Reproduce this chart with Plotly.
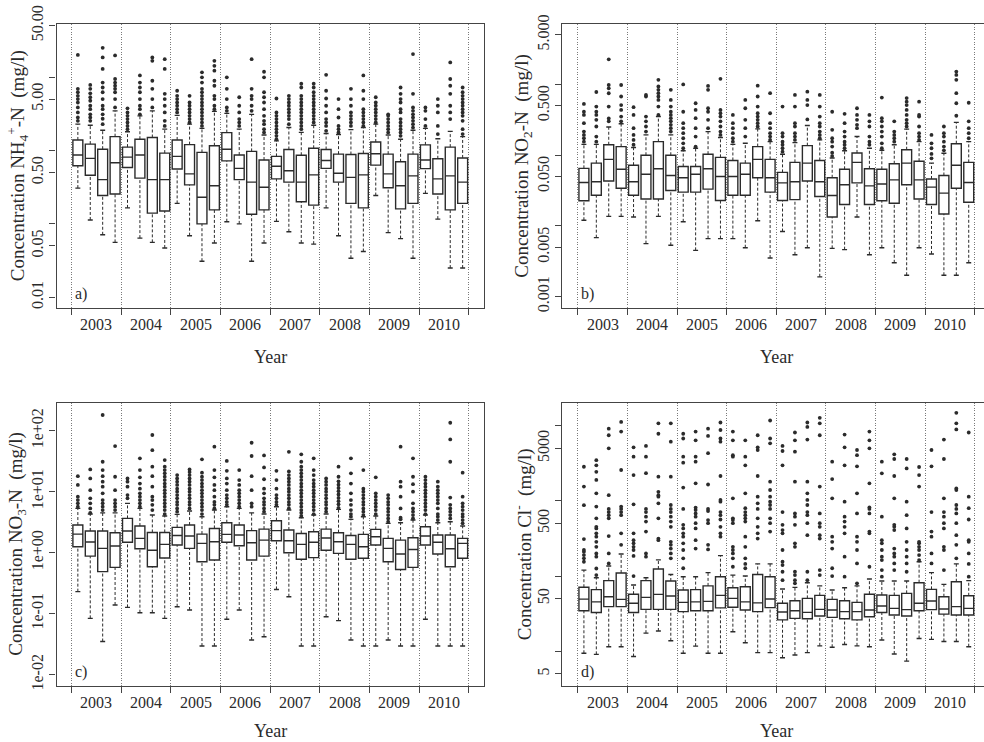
import plotly.graph_objects as go

# ---------------------------------------------------------------------------
# Quarterly box-plot statistics, 2003-2010 (4 quarters per year, 32 boxes)
# ---------------------------------------------------------------------------
years = ["2003", "2004", "2005", "2006", "2007", "2008", "2009", "2010"]
positions = list(range(1, 33))

# a) NH4+-N (mg/l)
nh4_q1 = [0.62, 0.46, 0.243, 0.255, 0.585, 0.42, 0.14, 0.15, 0.56, 0.34, 0.10, 0.155, 0.72, 0.40, 0.135, 0.155,
          0.41, 0.37, 0.20, 0.18, 0.57, 0.37, 0.19, 0.165, 0.63, 0.31, 0.16, 0.19, 0.565, 0.255, 0.155, 0.19]
nh4_med = [0.865, 0.78, 0.40, 0.68, 0.81, 0.865, 0.40, 0.40, 0.83, 0.48, 0.23, 0.33, 1.04, 0.57, 0.37, 0.315,
           0.61, 0.53, 0.37, 0.465, 0.73, 0.49, 0.43, 0.465, 0.90, 0.48, 0.33, 0.45, 0.74, 0.41, 0.45, 0.37]
nh4_q3 = [1.39, 1.22, 1.04, 1.54, 1.11, 1.42, 1.5, 0.92, 1.39, 1.2, 0.94, 1.16, 1.75, 0.865, 0.97, 0.74,
          0.83, 1.03, 0.86, 1.07, 1.03, 0.89, 0.88, 0.91, 1.3, 0.89, 0.70, 0.89, 1.19, 0.77, 1.11, 0.79]
nh4_lo = [0.307, 0.113, 0.071, 0.056, 0.165, 0.064, 0.056, 0.047, 0.19, 0.069, 0.031, 0.055, 0.107, 0.10, 0.031, 0.055,
          0.108, 0.078, 0.055, 0.053, 0.165, 0.069, 0.034, 0.042, 0.243, 0.076, 0.063, 0.034, 0.26, 0.116, 0.025, 0.025]
nh4_hi = [2.28, 2.2, 1.88, 3.46, 1.8, 2.96, 3.46, 1.95, 3.0, 2.28, 2.0, 3.4, 3.2, 1.95, 3.1, 1.62,
          1.35, 2.05, 1.76, 2.2, 1.7, 1.65, 1.92, 2.05, 2.28, 1.62, 1.42, 1.88, 2.0, 1.44, 1.82, 1.54]
nh4_out = [
    [2.53, 2.81, 3.29, 3.85, 4.5, 5.0, 5.55, 6.2, 6.9, 20],
    [2.53, 2.81, 3.1, 3.65, 4.06, 4.75, 5.3, 6.0, 6.9, 7.8],
    [2.28, 2.7, 3.1, 3.65, 4.06, 5.0, 6.2, 7.2, 8.4, 12.9, 18.5, 25],
    [3.85, 5.0, 6.2, 6.9, 7.6, 8.4, 9.4, 19.7],
    [1.95, 2.16, 2.4, 2.67, 2.96, 3.29, 3.75],
    [3.1, 3.65, 4.06, 5.0, 6.2, 7.2, 8.4, 10.5],
    [3.85, 5.0, 6.9, 8.9, 16.6, 18.5],
    [2.16, 2.53, 3.29, 4.06, 5.0, 5.9, 12.9, 17.5],
    [3.29, 3.65, 4.06, 4.5, 5.0, 5.55, 6.5],
    [2.4, 2.67, 2.96, 3.29, 3.65, 4.06, 4.5, 5.55],
    [2.16, 2.4, 2.67, 2.96, 3.29, 3.65, 4.06, 4.5, 5.0, 5.55, 6.2, 6.9, 8.4, 9.9, 11.6],
    [3.65, 4.06, 5.0, 5.55, 7.6, 8.9, 12.2, 14.2, 16.6],
    [3.46, 3.85, 5.0, 6.9, 9.9],
    [2.16, 2.4, 2.67, 3.29, 4.06, 5.3],
    [3.46, 4.06, 5.0, 5.55, 6.9, 17.5],
    [1.76, 1.95, 2.28, 2.53, 2.96, 3.65, 4.5, 5.3, 6.2, 9.9, 11.8],
    [1.42, 1.58, 1.76, 1.95, 2.16, 2.4, 2.67, 2.96, 3.29, 5.1],
    [2.28, 2.67, 2.96, 3.29, 3.65, 4.06, 4.5, 5.0, 5.55],
    [1.95, 2.16, 2.4, 2.67, 2.96, 3.29, 3.65, 4.06, 4.5, 5.0, 5.55, 7.2, 8.1],
    [2.4, 2.67, 2.96, 3.29, 3.65, 4.06, 4.5, 5.0, 5.55, 6.2, 7.2, 8.1],
    [1.85, 2.16, 2.4, 2.67, 3.29, 4.06, 5.1, 6.5, 10.7],
    [1.76, 1.95, 2.16, 2.81, 3.65, 5.0],
    [2.16, 2.4, 2.67, 2.96, 3.29, 4.06, 5.0, 6.9],
    [2.16, 2.4, 2.67, 2.96, 3.29, 3.65, 5.0, 6.5, 10.5],
    [2.4, 2.67, 2.96, 3.29, 3.65, 4.06, 4.5, 5.3],
    [1.76, 1.95, 2.16, 2.4, 2.67, 2.96, 3.1],
    [1.58, 1.76, 1.95, 2.16, 2.4, 2.67, 3.29, 3.65, 4.5, 5.0, 5.9, 7.2],
    [2.05, 2.28, 2.53, 2.81, 3.1, 3.46, 3.85, 5.9, 20.5],
    [2.16, 2.67, 3.46, 3.85],
    [1.67, 2.16, 3.29, 4.06, 5.0],
    [2.67, 3.29, 4.06, 5.9, 7.6, 9.4, 15.8],
    [1.67, 1.95, 2.53, 2.96, 3.29, 3.65, 4.06, 4.5, 5.0, 5.55, 6.2, 7.2],
]

# b) NO2-N (mg/l)
no2_q1 = [0.0226, 0.027, 0.043, 0.034, 0.027, 0.024, 0.024, 0.0316, 0.030, 0.030, 0.033, 0.0228, 0.027, 0.027, 0.0478, 0.030,
          0.0228, 0.0235, 0.043, 0.026, 0.0133, 0.020, 0.0405, 0.020, 0.0226, 0.0209, 0.038, 0.024, 0.020, 0.0147, 0.034, 0.0215]
no2_med = [0.041, 0.042, 0.087, 0.063, 0.042, 0.0537, 0.064, 0.0515, 0.0478, 0.0537, 0.064, 0.0498, 0.0498, 0.0537, 0.087, 0.0478,
           0.0405, 0.042, 0.0769, 0.042, 0.0268, 0.038, 0.079, 0.0367, 0.039, 0.0447, 0.0769, 0.0447, 0.0353, 0.029, 0.072, 0.041]
no2_q3 = [0.065, 0.077, 0.14, 0.132, 0.072, 0.0995, 0.155, 0.0995, 0.069, 0.069, 0.103, 0.093, 0.084, 0.077, 0.132, 0.087,
          0.057, 0.079, 0.136, 0.084, 0.0478, 0.063, 0.107, 0.064, 0.063, 0.0754, 0.119, 0.082, 0.046, 0.0515, 0.145, 0.079]
no2_lo = [0.012, 0.0068, 0.0136, 0.0136, 0.0133, 0.0056, 0.0136, 0.0053, 0.0114, 0.0045, 0.0066, 0.0066, 0.0066, 0.0049, 0.0118, 0.0035,
          0.0083, 0.0039, 0.0049, 0.0019, 0.0048, 0.0046, 0.0133, 0.0039, 0.0049, 0.0030, 0.0020, 0.0049, 0.0040, 0.0020, 0.0020, 0.0030]
no2_hi = [0.142, 0.142, 0.25, 0.277, 0.128, 0.193, 0.351, 0.193, 0.115, 0.125, 0.215, 0.177, 0.142, 0.147, 0.235, 0.155,
          0.103, 0.15, 0.262, 0.164, 0.091, 0.115, 0.183, 0.125, 0.117, 0.14, 0.233, 0.155, 0.077, 0.106, 0.29, 0.155]
no2_out = [
    [0.155, 0.173, 0.193, 0.215, 0.283, 0.37, 0.41, 0.53],
    [0.155, 0.183, 0.254, 0.315, 0.37, 0.41, 0.486, 0.78],
    [0.30, 0.33, 0.486, 0.75, 0.88, 0.98, 2.26],
    [0.30, 0.351, 0.436, 0.51, 0.674, 0.98],
    [0.14, 0.164, 0.193, 0.24, 0.37, 0.476],
    [0.215, 0.254, 0.30, 0.351, 0.674, 0.71],
    [0.37, 0.486, 0.603, 0.674, 0.751, 0.837, 0.933, 1.16],
    [0.215, 0.24, 0.268, 0.30, 0.333, 0.37, 0.41, 0.486, 0.603, 0.837],
    [0.125, 0.147, 0.173, 0.204, 0.24, 0.283, 0.41, 1.0],
    [0.132, 0.183, 0.24, 0.333, 0.436, 0.541],
    [0.24, 0.315, 0.41, 0.46, 0.837, 0.95],
    [0.193, 0.215, 0.254, 0.30, 0.351, 0.391, 0.436, 1.2],
    [0.155, 0.173, 0.204, 0.24, 0.283, 0.37],
    [0.183, 0.24, 0.315, 0.46, 0.603],
    [0.254, 0.283, 0.315, 0.351, 0.391, 0.486, 0.674, 0.96],
    [0.164, 0.183, 0.204, 0.24, 0.283, 0.391, 0.751],
    [0.112, 0.125, 0.14, 0.155, 0.183, 0.204, 0.486],
    [0.164, 0.183, 0.204, 0.254, 0.283, 0.486, 0.71],
    [0.32, 0.51, 0.603, 0.79],
    [0.173, 0.193, 0.215, 0.254, 0.283, 0.351, 0.486, 0.71],
    [0.097, 0.108, 0.132, 0.155, 0.173, 0.228, 0.41],
    [0.125, 0.14, 0.155, 0.183, 0.215, 0.283, 0.383],
    [0.24, 0.268, 0.315, 0.37, 0.46],
    [0.14, 0.155, 0.183, 0.254, 0.30, 0.37],
    [0.125, 0.147, 0.183, 0.215, 0.254, 0.30, 0.333, 0.65],
    [0.155, 0.173, 0.193, 0.215, 0.30],
    [0.254, 0.283, 0.315, 0.37, 0.436, 0.51, 0.57, 0.64],
    [0.164, 0.183, 0.204, 0.254, 0.351, 0.37, 0.57],
    [0.09, 0.104, 0.125, 0.147, 0.193],
    [0.117, 0.132, 0.155, 0.183, 0.204, 0.254],
    [0.36, 0.541, 0.751, 1.16, 1.36, 1.52],
    [0.173, 0.204, 0.24, 0.30, 0.55],
]

# c) NO3-N (mg/l)
no3_q1 = [1.25, 0.88, 0.49, 0.575, 1.48, 1.16, 0.59, 0.82, 1.34, 1.18, 0.71, 0.76, 1.48, 1.3, 0.76, 0.88,
          1.57, 1.0, 0.78, 0.83, 1.1, 0.975, 0.78, 0.81, 1.34, 0.71, 0.53, 0.575, 1.34, 0.95, 0.59, 0.81]
no3_med = [2.02, 1.5, 1.18, 1.29, 2.27, 1.72, 1.1, 1.37, 1.92, 1.88, 1.42, 1.51, 2.0, 1.95, 1.46, 1.61,
           2.3, 1.57, 1.37, 1.48, 1.74, 1.51, 1.37, 1.25, 1.83, 1.18, 0.95, 1.13, 1.88, 1.48, 1.16, 1.42]
no3_q3 = [2.84, 2.27, 2.27, 2.13, 3.65, 2.74, 2.15, 2.15, 2.6, 2.84, 2.02, 2.5, 3.1, 2.84, 2.3, 2.44,
          3.35, 2.35, 2.07, 2.21, 2.44, 2.13, 1.92, 2.0, 2.41, 1.72, 1.61, 1.76, 2.67, 1.95, 1.95, 1.72]
no3_lo = [0.23, 0.084, 0.035, 0.139, 0.127, 0.104, 0.104, 0.084, 0.13, 0.115, 0.0295, 0.0295, 0.081, 0.115, 0.037, 0.042,
          0.25, 0.19, 0.0295, 0.0295, 0.089, 0.077, 0.037, 0.0295, 0.0295, 0.037, 0.0295, 0.0295, 0.081, 0.0295, 0.0295, 0.0295]
no3_hi = [5.33, 4.3, 4.5, 4.5, 6.44, 5.33, 4.14, 4.0, 4.25, 4.82, 3.89, 5.0, 5.68, 5.33, 4.5, 4.3,
          5.68, 5.0, 3.75, 4.14, 4.3, 5.13, 3.52, 3.89, 4.0, 3.03, 3.1, 3.43, 4.14, 3.1, 3.22, 2.74]
no3_out = [
    [5.68, 6.44, 7.3, 8.28, 12.9, 18],
    [4.5, 5.33, 6.44, 7.8, 10.6, 16.5, 23.2],
    [5.0, 5.68, 6.44, 7.3, 9.4, 12.1, 14.6, 18, 22.6, 31, 181],
    [5.0, 5.68, 6.44, 7.3, 10.6, 17.6, 56],
    [7.8, 8.8, 12.1, 14.6, 16.5],
    [5.68, 6.44, 7.3, 8.28, 9.4, 11.2, 13.6, 17.2, 22.6, 35.2],
    [5.0, 6.1, 7.3, 8.28, 12.1, 18, 25.7, 48, 85],
    [4.3, 5.0, 5.68, 6.44, 7.3, 8.28, 9.4, 10.6, 12.1, 13.6, 15.5, 17.6, 20, 22.6, 25.7, 33],
    [4.7, 5.33, 6.1, 6.8, 7.8, 8.8, 10, 11.2, 12.9, 14.6, 16.5, 18.7],
    [5.33, 6.1, 6.8, 7.8, 8.8, 10, 11.2, 12.9, 14.6, 16.5, 18.7, 21, 23.2],
    [4.3, 5.0, 5.68, 6.44, 7.3, 8.28, 9.4, 10.6, 12.1, 13.6, 15.5, 17.6, 20.5, 34],
    [5.33, 6.1, 6.8, 8.28, 10.6, 12.9, 17.2, 22.6, 54.7],
    [6.1, 6.8, 7.8, 8.8, 10.6, 13.6, 16.5, 22, 32],
    [5.68, 6.44, 7.3, 8.28, 9.4, 10.6, 12.9, 15.5, 22.6],
    [5.68, 6.44, 10.6, 18, 38.5, 63.5],
    [4.7, 5.33, 6.1, 6.8, 7.8, 9.4, 11.2, 16, 25, 39.4],
    [6.1, 6.8, 7.8, 8.8, 11.2, 15.5, 22],
    [5.33, 6.1, 6.8, 7.8, 8.8, 10, 11.2, 12.9, 14.6, 16.5, 18.7, 21.5, 45],
    [4.0, 4.5, 5.0, 5.68, 6.44, 7.3, 8.28, 9.4, 10.6, 12.1, 13.6, 15.5, 17.6, 20, 22.6, 25.7, 31, 41],
    [4.3, 5.0, 5.68, 6.44, 7.3, 8.28, 9.4, 10.6, 12.1, 13.6, 15.5, 18.7, 22.6, 35.2],
    [4.7, 5.33, 6.1, 6.8, 7.8, 8.8, 10, 11.2, 12.9, 14.6, 16.5],
    [5.45, 6.2, 7.0, 7.9, 9.0, 10.2, 11.5, 13.0, 14.8, 17.6, 25.7],
    [3.89, 4.3, 5.0, 6.1, 7.3, 9.4, 13.6, 20, 35.2],
    [4.14, 4.7, 5.33, 6.1, 6.8, 7.8, 8.8, 10, 11.2, 22.6],
    [4.3, 5.0, 5.68, 6.44, 7.3, 8.28, 9.4, 17.2],
    [3.22, 3.65, 4.14, 4.7, 5.33, 6.1, 6.8, 7.8, 8.8],
    [3.52, 3.75, 5.33, 8.28, 12.1, 14.6, 54.7],
    [3.65, 4.14, 4.7, 5.33, 6.44, 10, 13.3, 17.6, 35.2],
    [4.3, 5.0, 5.68, 6.44, 7.3, 8.28, 9.4, 10.6, 12.1, 13.6, 15.5, 17.6],
    [3.43, 3.89, 4.3, 5.33, 6.44, 7.3, 8.28, 9.4, 10.6, 12.1, 14.6],
    [3.65, 4.14, 4.7, 5.33, 6.1, 8.0, 31, 72, 135],
    [3.03, 3.43, 3.89, 4.3, 5.0, 5.68, 6.44, 8.28, 20.5],
]

# d) Cl- (mg/l)
cl_q1 = [34.6, 32.7, 39.2, 39.2, 32.7, 36.1, 36.1, 36.1, 33.6, 34.6, 34.6, 37.7, 38.4, 35.4, 33.6, 38,
         26.1, 27.4, 27, 29.4, 28.2, 27, 26.1, 28.8, 32.7, 30.3, 29.4, 34.6, 35.8, 31.2, 30.3, 30.3]
cl_med = [49.4, 45.3, 53, 49, 43.4, 52, 57, 54.2, 44.7, 45.3, 46.1, 55.3, 50.5, 45.3, 44, 49.5,
          33.2, 34.6, 32.9, 36.1, 35.4, 33.6, 33.6, 35.4, 39.9, 37.2, 35.8, 43.4, 46.6, 36.5, 39.2, 37.2]
cl_q3 = [71, 66, 87, 110, 57.4, 87, 124, 86, 65.2, 66, 74, 98, 70, 72, 105, 98,
         43.4, 47, 50.5, 55.3, 49, 47, 44.7, 57.4, 56, 55.3, 58.9, 81.6, 66.5, 53.1, 84, 54.6]
cl_lo = [9.4, 9.1, 11.5, 11.5, 8.5, 17.4, 18.6, 13.8, 9.4, 11.7, 9.4, 9.4, 18.2, 13, 9.6, 9.6,
         8.2, 8.9, 9.6, 11.8, 11.3, 12.3, 11.8, 11.5, 14.1, 9.2, 7.4, 14.8, 14.4, 13.5, 13.5, 11.5]
cl_hi = [120, 95, 136, 196, 76, 95, 164, 105, 98, 98, 111, 187, 103, 100, 145, 145,
         67.2, 70.6, 81.6, 74, 65.2, 70, 74, 91.5, 86, 86, 86, 155, 111, 77.5, 145, 87]
cl_out = [
    [155, 172, 190, 210, 222, 310, 875, 1550, 2840],
    [103, 126, 181, 200, 245, 285, 334, 370, 430, 452, 585, 840, 1260, 1900, 2430, 2970, 3470],
    [147, 200, 340, 585, 645, 710, 780, 1190, 5000, 7450, 9100],
    [260, 370, 645, 710, 780, 840, 2570, 8350, 11200],
    [100, 185, 222, 245, 272, 300, 370, 900, 2200, 3865, 5150],
    [181, 200, 390, 530, 616, 710, 780, 2330, 3865, 5380],
    [300, 315, 585, 926, 1135, 1190, 1320, 2095, 7800, 10740],
    [172, 200, 232, 260, 285, 452, 530, 616, 710, 780, 880, 2095, 6120, 10740],
    [127, 172, 222, 272, 334, 370, 430, 480, 780, 1500, 3220, 3865, 6750, 7800],
    [232, 300, 430, 504, 616, 680, 755, 815, 1710, 3320, 3865, 6370, 8350],
    [226, 260, 504, 555, 730, 780, 1650, 4300, 7300, 9100],
    [334, 370, 452, 565, 645, 710, 975, 1030, 2140, 6120, 6750, 8750, 11000],
    [133, 172, 200, 222, 245, 504, 555, 585, 1080, 3865, 4050, 6370, 8350],
    [127, 145, 172, 245, 334, 530, 585, 645, 710, 800, 1260, 2970, 3865, 6370],
    [315, 370, 452, 585, 780, 926, 1135, 2140, 4740, 5150, 7450],
    [390, 504, 585, 780, 880, 975, 1135, 1393, 1800, 5820, 6750, 11700],
    [88, 114, 140, 155, 222, 370, 409, 480, 710, 2970, 4600, 5380],
    [80, 88, 103, 114, 245, 272, 480, 616, 680, 1800, 4500, 6370, 8100],
    [88, 114, 350, 504, 645, 710, 880, 1030, 1260, 1800, 6520, 9600, 11000],
    [103, 120, 315, 350, 452, 504, 680, 1550, 7450, 10740, 12700],
    [100, 127, 232, 285, 334, 1080, 1950, 3320],
    [98, 181, 370, 452, 530, 616, 975, 2970, 5150, 7600],
    [80, 147, 222, 285, 334, 680, 1260, 2880, 4050, 4740],
    [133, 370, 390, 680, 780, 820, 1710, 5000, 6370, 8350],
    [98, 120, 163, 181, 222, 272, 300, 616, 2320, 3320],
    [120, 147, 181, 200, 232, 409, 452, 480, 1080, 2140, 3600, 4150],
    [114, 147, 181, 222, 285, 430, 645, 975, 2700, 3600],
    [163, 190, 222, 245, 272, 285, 1550, 2200, 2820],
    [147, 200, 334, 390, 710, 2880, 4740],
    [120, 222, 245, 430, 504, 616, 710, 1080, 3600, 6520],
    [172, 260, 350, 504, 680, 780, 880, 1393, 1460, 8900, 10740, 14800],
    [98, 145, 200, 285, 300, 565, 800, 1135, 8100],
]

# ---------------------------------------------------------------------------
# Styling
# ---------------------------------------------------------------------------
W, H = 984, 742
FONT = "Liberation Serif"
INK = "#2b2b2b"
FRAME = "#444444"
GRID = "#7a7a7a"

# panel frames in pixels: (left, right, top, bottom)
frames = {
    "a": (56.5, 484.0, 24.0, 307.5),
    "b": (562.0, 984.0, 24.0, 307.5),
    "c": (56.5, 484.0, 402.7, 685.7),
    "d": (562.0, 984.0, 402.7, 685.7),
}
xranges = {"a": [-0.72, 33.72], "b": [-0.765, 33.23], "c": [-0.72, 33.72], "d": [-0.765, 33.23]}
yranges = {"a": [-2.139, 1.722], "b": [-3.155, 0.854], "c": [-2.18, 2.459], "d": [0.542, 4.305]}

# labelled and unlabelled tick positions on the log axes
ytick_vals = {
    "a": [0.01, 0.05, 0.5, 5, 50],
    "b": [0.001, 0.005, 0.05, 0.5, 5],
    "c": [0.01, 0.1, 1, 10, 100],
    "d": [5, 50, 500, 5000],
}
ytick_text = {
    "a": ["0.01", "0.05", "0.50", "5.00", "50.00"],
    "b": ["0.001", "0.005", "0.050", "0.500", "5.000"],
    "c": ["1e-02", "1e-01", "1e+00", "1e+01", "1e+02"],
    "d": ["5", "50", "500", "5000"],
}
ytick_minor = {
    "a": [0.1, 1, 10],
    "b": [0.01, 0.1, 1],
    "c": [],
    "d": [10, 100, 1000, 10000],
}
ytitles = {
    "a": "Concentration NH<sub>4</sub><sup>+</sup>-N\u00a0\u00a0(mg/l)",
    "b": "Concentration NO<sub>2</sub>-N\u00a0\u00a0(mg/l)",
    "c": "Concentration NO<sub>3</sub>-N\u00a0\u00a0(mg/l)",
    "d": "Concentration Cl<sup>-</sup>\u00a0\u00a0(mg/l)",
}
panel_data = {
    "a": (nh4_q1, nh4_med, nh4_q3, nh4_lo, nh4_hi, nh4_out),
    "b": (no2_q1, no2_med, no2_q3, no2_lo, no2_hi, no2_out),
    "c": (no3_q1, no3_med, no3_q3, no3_lo, no3_hi, no3_out),
    "d": (cl_q1, cl_med, cl_q3, cl_lo, cl_hi, cl_out),
}
axis_ids = {"a": "", "b": "2", "c": "3", "d": "4"}

group_edges = [0.5 + 4 * k for k in range(len(years) + 1)]
group_centers = [2.5 + 4 * k for k in range(len(years))]

fig = go.Figure()
layout = {}
annotations = []

for key in ["a", "b", "c", "d"]:
    q1, med, q3, lo, hi, outl = panel_data[key]
    sid = axis_ids[key]
    xa, ya = "x" + sid, "y" + sid
    left, right, top, bottom = frames[key]

    # boxes (whiskers drawn separately, dashed)
    fig.add_trace(go.Box(
        x=positions, q1=q1, median=med, q3=q3, lowerfence=q1, upperfence=q3,
        width=0.8, whiskerwidth=0, boxpoints=False, fillcolor="white",
        line=dict(color=INK, width=1.4), xaxis=xa, yaxis=ya,
        showlegend=False, hoverinfo="skip",
    ))

    wx, wy, cx, cy, ox, oy = [], [], [], [], [], []
    for xi, a, b, c, d, o in zip(positions, lo, q1, q3, hi, outl):
        wx += [xi, xi, None, xi, xi, None]
        wy += [a, b, None, c, d, None]
        cx += [xi - 0.2, xi + 0.2, None, xi - 0.2, xi + 0.2, None]
        cy += [a, a, None, d, d, None]
        ox += [xi] * len(o)
        oy += o

    fig.add_trace(go.Scatter(x=wx, y=wy, mode="lines", xaxis=xa, yaxis=ya,
                             line=dict(color=INK, width=1, dash="3px,2px"),
                             showlegend=False, hoverinfo="skip"))
    fig.add_trace(go.Scatter(x=cx, y=cy, mode="lines", xaxis=xa, yaxis=ya,
                             line=dict(color=INK, width=1.4),
                             showlegend=False, hoverinfo="skip"))
    fig.add_trace(go.Scatter(x=ox, y=oy, mode="markers", xaxis=xa, yaxis=ya,
                             marker=dict(color=INK, size=3.8),
                             showlegend=False, hoverinfo="skip"))

    xdom = [left / W, right / W]
    ydom = [1 - bottom / H, 1 - top / H]

    layout["xaxis" + sid] = dict(
        domain=xdom, range=xranges[key], anchor=ya,
        tickmode="array", tickvals=group_edges, showticklabels=False,
        ticks="outside", ticklen=6, tickwidth=1, tickcolor=FRAME,
        showgrid=True, gridcolor=GRID, griddash="1px,1.5px", gridwidth=1,
        showline=True, linecolor=FRAME, linewidth=1.2, mirror=True,
        zeroline=False, automargin=False, fixedrange=True,
    )
    yax = dict(
        domain=ydom, type="log", range=yranges[key], anchor=xa,
        tickmode="array", tickvals=ytick_vals[key], ticktext=ytick_text[key],
        tickangle=-90, ticks="outside", ticklen=6, tickwidth=1, tickcolor=FRAME,
        tickfont=dict(family=FONT, size=16, color=INK),
        showgrid=False, showline=True, linecolor=FRAME, linewidth=1.2,
        mirror=(key in ("a", "c")), zeroline=False, automargin=False, fixedrange=True,
    )
    if ytick_minor[key]:
        yax["minor"] = dict(tickmode="array", tickvals=ytick_minor[key], ticks="outside",
                            ticklen=6, tickwidth=1, tickcolor=FRAME, showgrid=False)
    layout["yaxis" + sid] = yax

    # year labels under each group of four quarters
    for yr, xc in zip(years, group_centers):
        annotations.append(dict(
            text=yr, x=xc, xref=xa, y=1 - (bottom + 17) / H, yref="paper",
            xanchor="center", yanchor="middle", showarrow=False,
            font=dict(family=FONT, size=16, color=INK),
        ))
    # x-axis title
    year_off = 49 if key in ("a", "b") else 45
    annotations.append(dict(
        text="Year", x=(left + (right if key in ("a", "c") else 990.0)) / 2 / W, xref="paper",
        y=1 - (bottom + year_off) / H, yref="paper", xanchor="center", yanchor="middle",
        showarrow=False, font=dict(family=FONT, size=18, color=INK),
    ))
    # y-axis title
    annotations.append(dict(
        text=ytitles[key], x=(left - 39) / W, xref="paper",
        y=1 - (top + bottom) / 2 / H, yref="paper", xanchor="center", yanchor="middle",
        textangle=-90, showarrow=False, font=dict(family=FONT, size=19, color=INK),
    ))
    # panel tag
    annotations.append(dict(
        text=key + ")", x=0.62, xref=xa, y=1 - (bottom - 3) / H, yref="paper",
        xanchor="left", yanchor="bottom", showarrow=False,
        font=dict(family=FONT, size=16, color=INK),
    ))

fig.update_layout(
    width=W, height=H,
    margin=dict(l=0, r=0, t=0, b=0),
    paper_bgcolor="white", plot_bgcolor="white",
    font=dict(family=FONT, color=INK),
    showlegend=False, annotations=annotations,
    **layout,
)

fig.write_html("out.html", config={"displayModeBar": False})
